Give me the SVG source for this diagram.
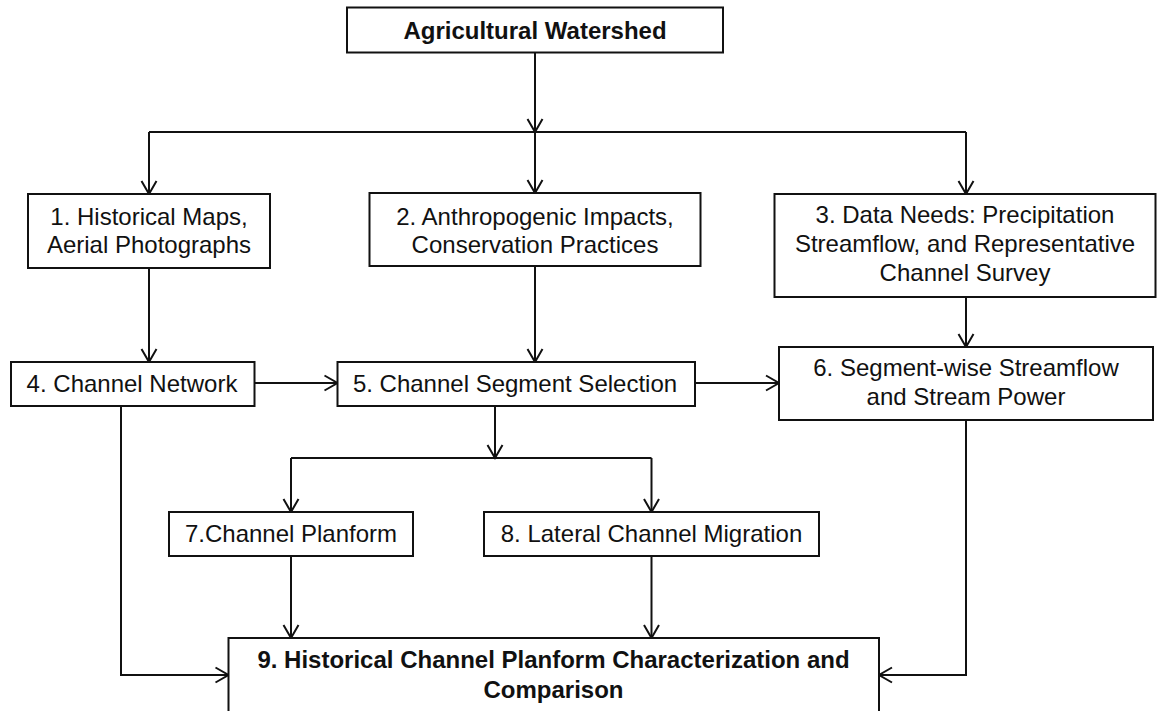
<svg xmlns="http://www.w3.org/2000/svg" width="1157" height="711" viewBox="0 0 1157 711">
<style>
.box{fill:#fff;stroke:#111;stroke-width:2}
.t{font-family:"Liberation Sans",Arial,sans-serif;font-size:24px;fill:#111;text-anchor:middle}
.b{font-weight:bold}
.c{fill:none;stroke:#111;stroke-width:2}
</style>
<defs>
<marker id="ah" markerUnits="userSpaceOnUse" markerWidth="18" markerHeight="20" refX="14" refY="9" orient="auto" viewBox="0 0 18 20">
<path d="M1,1.5 L14,9 L1,16.5" fill="none" stroke="#111" stroke-width="2"/>
</marker>
</defs>
<rect width="1157" height="711" fill="#fff"/>
<g id="connectors">
<path class="c" d="M535,52 V132" marker-end="url(#ah)"/>
<path class="c" d="M149,132 H966"/>
<path class="c" d="M149,132 V194" marker-end="url(#ah)"/>
<path class="c" d="M535,132 V193" marker-end="url(#ah)"/>
<path class="c" d="M966,132 V194" marker-end="url(#ah)"/>
<path class="c" d="M149,268 V362" marker-end="url(#ah)"/>
<path class="c" d="M535,266 V362" marker-end="url(#ah)"/>
<path class="c" d="M966,297 V347" marker-end="url(#ah)"/>
<path class="c" d="M254.5,383 H337.5" marker-end="url(#ah)"/>
<path class="c" d="M695,383 H779" marker-end="url(#ah)"/>
<path class="c" d="M495,406 V458" marker-end="url(#ah)"/>
<path class="c" d="M291,458 H651.5"/>
<path class="c" d="M291,458 V512" marker-end="url(#ah)"/>
<path class="c" d="M651.5,458 V512" marker-end="url(#ah)"/>
<path class="c" d="M291,556 V638" marker-end="url(#ah)"/>
<path class="c" d="M651.5,556 V638" marker-end="url(#ah)"/>
<path class="c" d="M121,406 V675 H228.5" marker-end="url(#ah)"/>
<path class="c" d="M966,420 V675 H879" marker-end="url(#ah)"/>
</g>
<g id="node0">
<rect class="box" x="347" y="7.5" width="376" height="45"/>
<text class="t b" x="535" y="39">Agricultural Watershed</text>
</g>
<g id="node1">
<rect class="box" x="28" y="194" width="242" height="74"/>
<text class="t" x="149" y="225">1. Historical Maps,</text>
<text class="t" x="149" y="253">Aerial Photographs</text>
</g>
<g id="node2">
<rect class="box" x="369.5" y="193" width="331" height="73"/>
<text class="t" x="535" y="225">2. Anthropogenic Impacts,</text>
<text class="t" x="535" y="253">Conservation Practices</text>
</g>
<g id="node3">
<rect class="box" x="774.5" y="194" width="381" height="103"/>
<text class="t" x="965" y="223">3. Data Needs: Precipitation</text>
<text class="t" x="965" y="252">Streamflow, and Representative</text>
<text class="t" x="965" y="281">Channel Survey</text>
</g>
<g id="node4">
<rect class="box" x="11" y="362" width="243.5" height="44"/>
<text class="t" x="132" y="392">4. Channel Network</text>
</g>
<g id="node5">
<rect class="box" x="337.5" y="362" width="357.5" height="44"/>
<text class="t" x="515" y="392">5. Channel Segment Selection</text>
</g>
<g id="node6">
<rect class="box" x="779" y="347" width="374" height="73"/>
<text class="t" x="966" y="376">6. Segment-wise Streamflow</text>
<text class="t" x="966" y="405">and Stream Power</text>
</g>
<g id="node7">
<rect class="box" x="169" y="512" width="244" height="44"/>
<text class="t" x="291" y="542">7.Channel Planform</text>
</g>
<g id="node8">
<rect class="box" x="484" y="512" width="335" height="44"/>
<text class="t" x="651.5" y="542">8. Lateral Channel Migration</text>
</g>
<g id="node9">
<rect class="box" x="228.5" y="638" width="650.5" height="90"/>
<text class="t b" x="553.5" y="668">9. Historical Channel Planform Characterization and</text>
<text class="t b" x="553.5" y="698">Comparison</text>
</g>
</svg>
